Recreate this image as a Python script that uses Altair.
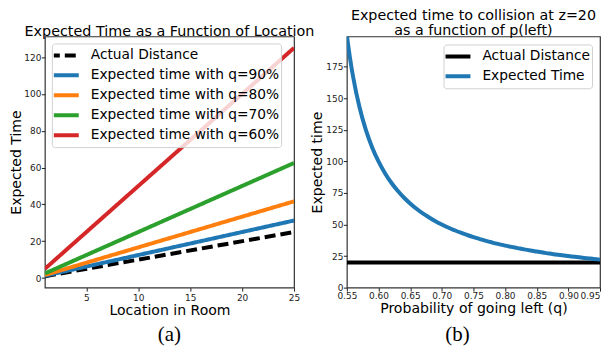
import altair as alt
import pandas as pd

# ---- panel (a) data ----
loc = [1, 25]
series_a = ["Actual Distance", "Expected time with q=90%", "Expected time with q=80%",
            "Expected time with q=70%", "Expected time with q=60%"]
vals_a = {
    "Actual Distance": [1, 25],
    "Expected time with q=90%": [1.25, 31.25],
    "Expected time with q=80%": [1.67, 41.67],
    "Expected time with q=70%": [2.5, 62.5],
    "Expected time with q=60%": [5, 125],
}
colors_a = ["#000000", "#1f77b4", "#ff7f0e", "#2ca02c", "#d62728"]
dashes_a = [[11, 5], [1, 0], [1, 0], [1, 0], [1, 0]]

# ---- panel (b) data ----
p_left = [0.55, 0.555, 0.56, 0.57, 0.58, 0.59, 0.60, 0.61, 0.62, 0.63, 0.64, 0.65, 0.66, 0.67,
          0.68, 0.69, 0.70, 0.71, 0.72, 0.73, 0.74, 0.75, 0.76, 0.77, 0.78, 0.79, 0.80,
          0.81, 0.82, 0.83, 0.84, 0.85, 0.86, 0.87, 0.88, 0.89, 0.90, 0.91, 0.92, 0.93,
          0.94, 0.95]
exp_time = [200, 181.8, 166.7, 142.9, 125, 111.1, 100, 90.9, 83.3, 76.9, 71.4, 66.7, 62.5, 58.8,
            55.6, 52.6, 50, 47.6, 45.5, 43.5, 41.7, 40, 38.5, 37.0, 35.7, 34.5, 33.3,
            32.3, 31.3, 30.3, 29.4, 28.6, 27.8, 27.0, 26.3, 25.6, 25, 24.4, 23.8, 23.3,
            22.7, 22.2]
actual_b = 20
series_b = ["Actual Distance", "Expected Time"]
colors_b = ["#000000", "#1f77b4"]

rows = []
for s in series_a:
    for x, y in zip(loc, vals_a[s]):
        rows.append({"loc": x, "t": y, "series": s})
df_a = pd.DataFrame(rows)

rows_b = [{"p": 0.55, "t": actual_b, "series": "Actual Distance"},
          {"p": 0.95, "t": actual_b, "series": "Actual Distance"}]
for p, t in zip(p_left, exp_time):
    rows_b.append({"p": p, "t": t, "series": "Expected Time"})
df_b = pd.DataFrame(rows_b)

W_A, W_B, H = 250, 254, 252

title_a = alt.TitleParams("Expected Time as a Function of Location", fontSize=14.4,
                          fontWeight="normal", offset=-2.8, color="#000", frame="group")
title_b = alt.TitleParams(["Expected time to collision at z=20", "as a function of p(left)"],
                          fontSize=14.3, fontWeight="normal", offset=-2, lineHeight=15,
                          color="#000", frame="group")

lines_a = alt.Chart(df_a).mark_line(strokeWidth=4, clip=True).encode(
    x=alt.X("loc:Q", scale=alt.Scale(domain=[1, 25], nice=False, zero=False),
            axis=alt.Axis(values=[5, 10, 15, 20, 25], title="Location in Room", titlePadding=1)),
    y=alt.Y("t:Q", scale=alt.Scale(domain=[-5.2, 131.2], nice=False, zero=False),
            axis=alt.Axis(values=[0, 20, 40, 60, 80, 100, 120], title="Expected Time",
                          titlePadding=0.5, labelPadding=0.5)),
    color=alt.Color("series:N", scale=alt.Scale(domain=series_a, range=colors_a),
                    sort=series_a, title=None,
                    legend=alt.Legend(orient="none", legendX=7, legendY=7)),
    strokeDash=alt.StrokeDash("series:N", scale=alt.Scale(domain=series_a, range=dashes_a),
                              sort=series_a, title=None,
                              legend=alt.Legend(orient="none", legendX=7, legendY=7)),
    order=alt.Order("series:N"),
)
cap_a = alt.Chart(pd.DataFrame({"c": ["(a)"]})).mark_text(
    font="Liberation Serif", fontSize=21, baseline="middle", align="center", color="#000"
).encode(x=alt.value(W_A / 2), y=alt.value(H + 48), text="c:N")
panel_a = alt.layer(lines_a, cap_a).properties(width=W_A, height=H, title=title_a)

lines_b = alt.Chart(df_b).mark_line(strokeWidth=4, clip=True, interpolate="monotone").encode(
    x=alt.X("p:Q", scale=alt.Scale(domain=[0.55, 0.95], nice=False, zero=False),
            axis=alt.Axis(values=[0.55, 0.6, 0.65, 0.7, 0.75, 0.8, 0.85, 0.9, 0.95], format=".2f",
                          title="Probability of going left (q)", titlePadding=1, labelPadding=0,
                          labelAlign=alt.expr("datum.value > 0.94 ? 'right' : 'center'"))),
    y=alt.Y("t:Q", scale=alt.Scale(domain=[0, 199], nice=False),
            axis=alt.Axis(values=[0, 25, 50, 75, 100, 125, 150, 175], title="Expected time",
                          titlePadding=1, labelPadding=0.5)),
    color=alt.Color("series:N", scale=alt.Scale(domain=series_b, range=colors_b),
                    sort=series_b, title=None,
                    legend=alt.Legend(orient="top-right", offset=8)),
)
cap_b = alt.Chart(pd.DataFrame({"c": ["(b)"]})).mark_text(
    font="Liberation Serif", fontSize=21, baseline="middle", align="center", color="#000"
).encode(x=alt.value(W_B / 2 - 16), y=alt.value(H + 48), text="c:N")
panel_b = alt.layer(lines_b, cap_b).properties(width=W_B, height=H, title=title_b)

chart = alt.hconcat(panel_a, panel_b, spacing=53, bounds="flush").resolve_scale(
    color="independent", strokeDash="independent"
).resolve_legend(
    color="independent", strokeDash="independent"
).properties(
    padding={"left": 0, "top": 0, "right": 0, "bottom": 0}
).configure(font="DejaVu Sans").configure_view(
    stroke="#333", strokeWidth=1.2
).configure_axis(
    grid=False, domain=False, labelFontSize=9, labelColor="#222", tickColor="#222",
    tickSize=3.5, titleFontSize=14.1, titleFontWeight="normal", titleColor="#000",
    labelFont="DejaVu Sans", titleFont="DejaVu Sans", labelFlush=False, labelOverlap=False,
).configure_legend(
    symbolType="stroke", symbolSize=900, symbolStrokeWidth=4, labelFontSize=13.8,
    labelColor="#000", labelFont="DejaVu Sans", fillColor="rgba(255,255,255,0.8)",
    strokeColor="#d0d0d0", cornerRadius=3, padding=2, rowPadding=0, clipHeight=20,
    symbolOffset=-7, labelOffset=10, labelLimit=400,
)

chart.save("out.html", embed_options={"renderer": "svg", "actions": False})
